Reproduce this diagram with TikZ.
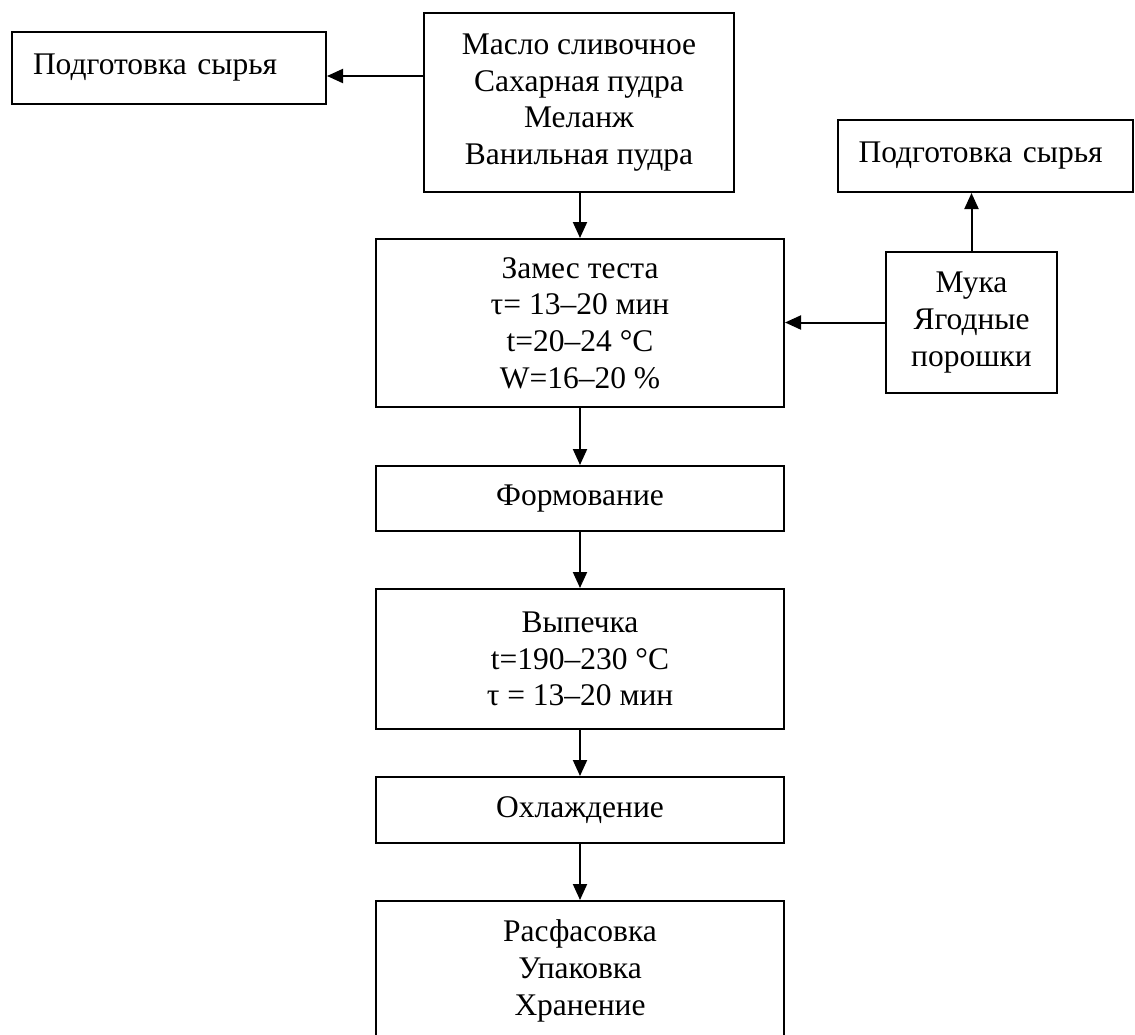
\documentclass[tikz,border=0pt]{standalone}
\usepackage{fontspec}
\setmainfont{Liberation Serif}
\usetikzlibrary{arrows.meta}

\tikzset{
  blk/.style={draw, line width=2pt, inner sep=0pt, align=center,
    font=\fontsize{31.5}{36.7}\selectfont},
  lblk/.style={blk, align=left, inner xsep=21pt},
  arr/.style={line width=2pt, -{Triangle[length=16pt,width=14pt]}}
}

\begin{document}
\begin{tikzpicture}[x=1pt,y=1pt,yscale=-1,xscale=1]
\useasboundingbox (0,0) rectangle (1135,1034);
\clip (0,0) rectangle (1135,1034);

%Shape: Rectangle (raw material, left)
\node [lblk, text width=272pt, minimum height=72pt] (prepL) at (169,68) {Подготовка сырья};
%Shape: Rectangle (ingredients)
\node [blk, minimum width=310pt, minimum height=179pt] (ingr) at (579,102.5)
  {Масло сливочное\\Сахарная пудра\\Меланж\\Ванильная пудра};
%Shape: Rectangle (raw material, right)
\node [lblk, text width=253pt, minimum height=72pt] (prepR) at (985,156) {Подготовка сырья};
%Shape: Rectangle (kneading)
\node [blk, minimum width=408pt, minimum height=168pt] (knead) at (580,323)
  {Замес теста\\τ= 13–20 мин\\t=20–24 °C\\W=16–20 \%};
%Shape: Rectangle (flour)
\node [blk, minimum width=171pt, minimum height=141pt] (flour) at (971.5,322.5)
  {Мука\\Ягодные\\порошки};
%Shape: Rectangle (forming)
\node [blk, minimum width=408pt, minimum height=65pt] (form) at (580,498.5) {Формование};
%Shape: Rectangle (baking)
\node [blk, minimum width=408pt, minimum height=140pt] (bake) at (580,659)
  {Выпечка\\t=190–230 °C\\τ = 13–20 мин};
%Shape: Rectangle (cooling)
\node [blk, minimum width=408pt, minimum height=66pt] (cool) at (580,810) {Охлаждение};
%Shape: Rectangle (packing)
\node [blk, minimum width=408pt, minimum height=140pt] (pack) at (580,971)
  {Расфасовка\\Упаковка\\Хранение};

%Straight Lines
\coordinate (inL) at ([yshift=8pt]prepL.east);
\draw [arr] (ingr.west |- inL) -- (inL);
%Straight Lines
\draw [arr] (knead.north |- ingr.south) -- (knead.north);
%Straight Lines
\draw [arr] (flour.west) -- (flour.west -| knead.east);
%Straight Lines
\draw [arr] (flour.north) -- (flour.north |- prepR.south);
%Straight Lines
\draw [arr] (knead.south) -- (form.north);
%Straight Lines
\draw [arr] (form.south) -- (bake.north);
%Straight Lines
\draw [arr] (bake.south) -- (cool.north);
%Straight Lines
\draw [arr] (cool.south) -- (pack.north);

\end{tikzpicture}
\end{document}
